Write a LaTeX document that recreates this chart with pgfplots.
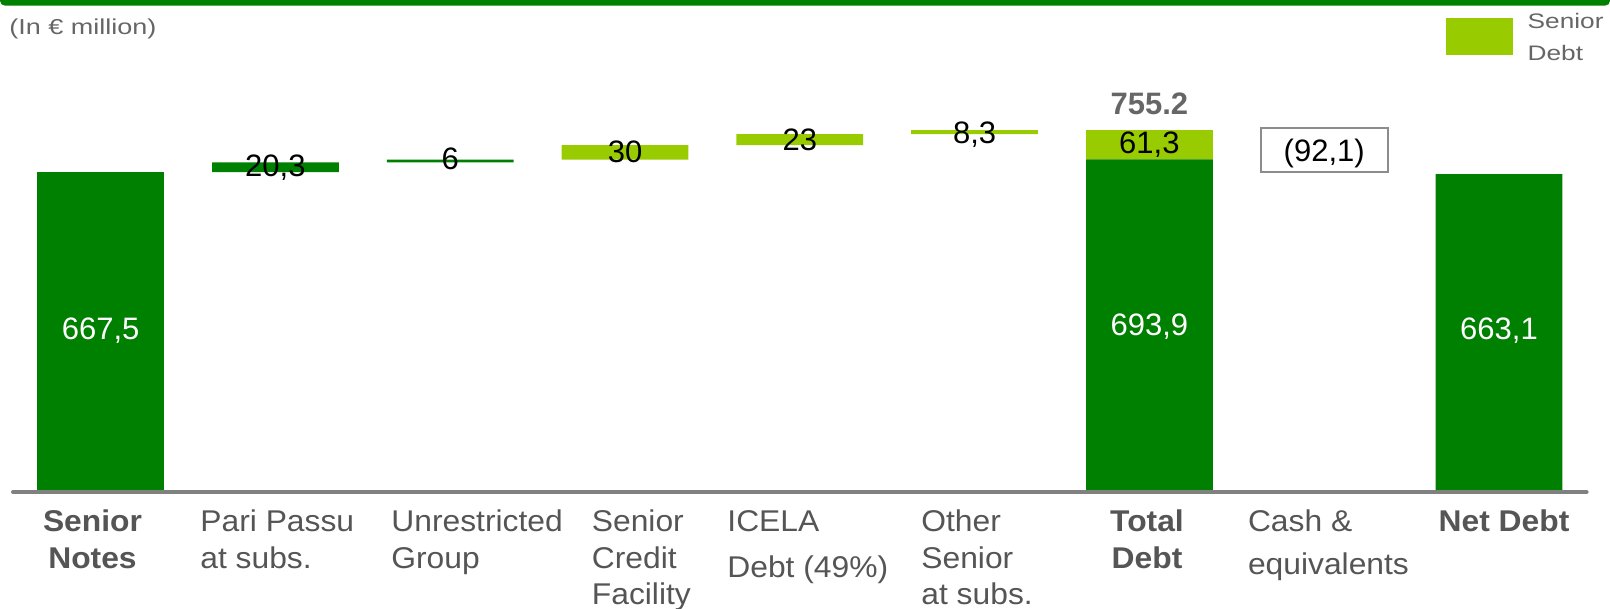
\documentclass[border=0pt]{standalone}
\usepackage{fontspec}
\setmainfont{Liberation Sans}
\newfontfamily\labfont[FakeStretch=1.06]{Liberation Sans}
\newfontfamily\titfont[FakeStretch=1.25]{Liberation Sans}
\usepackage{pgfplots}
\pgfplotsset{compat=1.18}
\definecolor{dgreen}{RGB}{0,128,0}
\definecolor{lgreen}{RGB}{153,204,0}
\definecolor{lblgray}{RGB}{85,85,85}
\definecolor{titgray}{RGB}{102,102,102}
\definecolor{axgray}{RGB}{128,128,128}
\definecolor{boxgray}{RGB}{140,140,140}
\newcommand\numfont{\fontsize{15.5}{18}\selectfont}
\newcommand\lab{\labfont\fontsize{15}{18}\selectfont\color{lblgray}}
\begin{document}
\begin{tikzpicture}
\path[use as bounding box] (0,0) rectangle (805pt,-304.5pt);
\fill[dgreen, rounded corners=2.5pt] (0,3pt) rectangle (805pt,-2.85pt);
\node[anchor=base west, inner sep=0pt, font=\titfont\fontsize{10.8}{13}\selectfont, text=titgray] at (4.5pt,-17.5pt) {(In € million)};
\begin{axis}[
  at={(6.6pt,-246pt)}, anchor=south west,
  x=87.4pt, y=0.2396pt,
  xmin=-0.5, xmax=8.5, ymin=0, ymax=900,
  axis x line=bottom, axis y line=none,
  x axis line style={-, axgray, line width=2.2pt, line cap=round},
  xtick=\empty, ytick=\empty,
  axis on top, clip=false,
  ybar stacked, bar width=0.725,
  legend style={at={(0.9108,1.0695)}, anchor=west, draw=none, fill=none,
    inner sep=0pt, outer sep=0pt, column sep=7.5pt,
    font=\titfont\fontsize{10.5}{16}\selectfont,
    nodes={inner sep=0pt, text=titgray}},
  legend image code/.code={\fill[lgreen] (0pt,-14.4pt) rectangle (33.3pt,4.3pt);},
]
\addplot[draw=none, fill=none, forget plot] coordinates {(0,0) (1,667.5) (2,687.8) (3,693.8) (4,723.8) (5,746.8) (6,0) (7,663.1) (8,0)};
\addplot[draw=none, fill=dgreen, forget plot] coordinates {(0,667.5) (1,20.3) (2,6) (3,0) (4,0) (5,0) (6,693.9) (7,0) (8,663.1)};
\addplot[draw=none, fill=lgreen] coordinates {(0,0) (1,0) (2,0) (3,30) (4,23) (5,8.3) (6,61.3) (7,0) (8,0)};
\addlegendentry{\begin{tabular}{@{}l@{}}Senior\\Debt\end{tabular}}
\addplot[draw=boxgray, line width=1pt, fill=white, forget plot] coordinates {(0,nan) (1,nan) (2,nan) (3,nan) (4,nan) (5,nan) (6,nan) (7,92.1) (8,nan)};
\coordinate (a0) at (axis cs:0,318.6);
\coordinate (a6) at (axis cs:6,327.6);
\coordinate (a8) at (axis cs:8,318.6);
\coordinate (b1) at (axis cs:1,658);
\coordinate (b2) at (axis cs:2,672);
\coordinate (b3) at (axis cs:3,688.6);
\coordinate (b4) at (axis cs:4,713.7);
\coordinate (b5) at (axis cs:5,727.7);
\coordinate (b6) at (axis cs:6,706.8);
\coordinate (t6) at (axis cs:6,788);
\coordinate (b7) at (axis cs:7,689.3);
\end{axis}
\node[anchor=base, font=\numfont, text=white] at (a0) {667,5};
\node[anchor=base, font=\numfont, text=white] at (a6) {693,9};
\node[anchor=base, font=\numfont, text=white] at (a8) {663,1};
\node[anchor=base, font=\numfont] at (b1) {20,3};
\node[anchor=base, font=\numfont] at (b2) {6};
\node[anchor=base, font=\numfont] at (b3) {30};
\node[anchor=base, font=\numfont] at (b4) {23};
\node[anchor=base, font=\numfont] at (b5) {8,3};
\node[anchor=base, font=\numfont] at (b6) {61,3};
\node[anchor=base, font=\numfont\bfseries, text=titgray] at (t6) {755.2};
\node[anchor=base, font=\numfont] at (b7) {(92,1)};
% category labels
\node[anchor=base, inner sep=0pt, font=\lab\bfseries] at (46.25pt,-265.5pt) {Senior};
\node[anchor=base, inner sep=0pt, font=\lab\bfseries] at (46.25pt,-284pt) {Notes};
\node[anchor=base west, inner sep=0pt, font=\lab] at (100pt,-265.5pt) {Pari Passu};
\node[anchor=base west, inner sep=0pt, font=\lab] at (100pt,-284pt) {at subs.};
\node[anchor=base west, inner sep=0pt, font=\lab] at (195.5pt,-265.5pt) {Unrestricted};
\node[anchor=base west, inner sep=0pt, font=\lab] at (195.5pt,-284pt) {Group};
\node[anchor=base west, inner sep=0pt, font=\lab] at (295.75pt,-265.5pt) {Senior};
\node[anchor=base west, inner sep=0pt, font=\lab] at (295.75pt,-284pt) {Credit};
\node[anchor=base west, inner sep=0pt, font=\lab] at (295.75pt,-302.25pt) {Facility};
\node[anchor=base west, inner sep=0pt, font=\lab] at (363.5pt,-265.5pt) {ICELA};
\node[anchor=base west, inner sep=0pt, font=\lab] at (363.5pt,-288.75pt) {Debt (49\%)};
\node[anchor=base west, inner sep=0pt, font=\lab] at (460.5pt,-265.5pt) {Other};
\node[anchor=base west, inner sep=0pt, font=\lab] at (460.5pt,-284pt) {Senior};
\node[anchor=base west, inner sep=0pt, font=\lab] at (460.5pt,-302.25pt) {at subs.};
\node[anchor=base, inner sep=0pt, font=\lab\bfseries] at (573.5pt,-265.5pt) {Total};
\node[anchor=base, inner sep=0pt, font=\lab\bfseries] at (573.5pt,-284pt) {Debt};
\node[anchor=base west, inner sep=0pt, font=\lab] at (623.8pt,-265.5pt) {Cash \&};
\node[anchor=base west, inner sep=0pt, font=\lab] at (623.8pt,-287pt) {equivalents};
\node[anchor=base, inner sep=0pt, font=\lab\bfseries] at (752pt,-265.5pt) {Net Debt};
\end{tikzpicture}
\end{document}
